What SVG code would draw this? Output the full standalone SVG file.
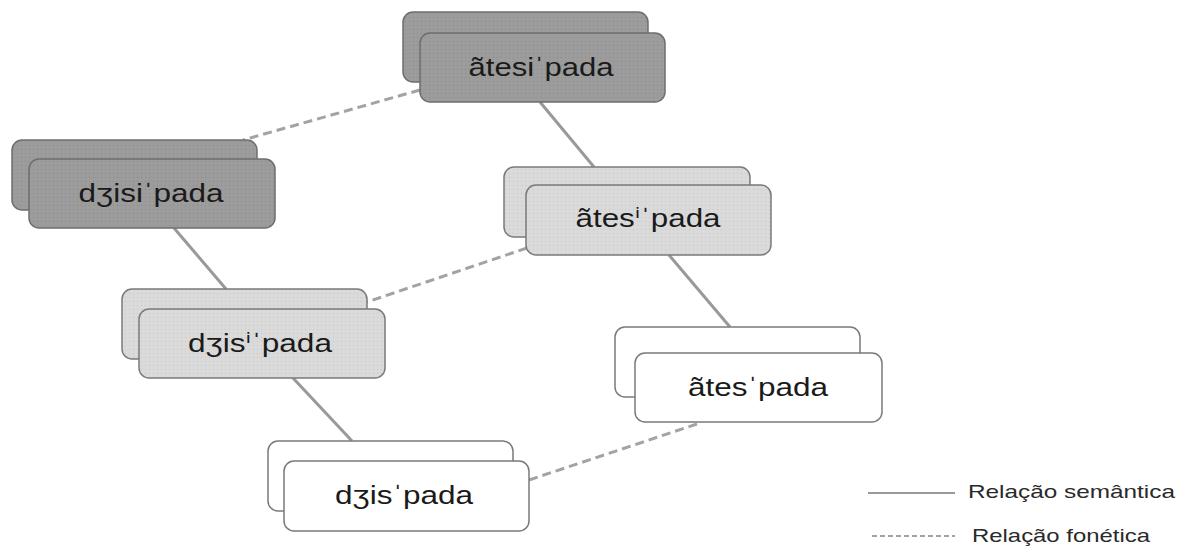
<svg xmlns="http://www.w3.org/2000/svg" width="1189" height="547" viewBox="0 0 1189 547">
  <defs>
    <!-- fine dot textures for the shaded cards -->
    <pattern id="dotsDark" width="4" height="4" patternUnits="userSpaceOnUse">
      <rect width="4" height="4" fill="#9c9c9c"/>
      <rect x="1" y="1" width="1" height="1" fill="#8a8a8a"/>
    </pattern>
    <pattern id="dotsLight" width="4" height="4" patternUnits="userSpaceOnUse">
      <rect width="4" height="4" fill="#dadada"/>
      <rect x="1" y="1" width="1" height="1" fill="#c6c6c6"/>
    </pattern>
    <style>
      .card { stroke-width: 1.5; }
      .dark { fill: url(#dotsDark); stroke: #6e6e6e; }
      .light { fill: url(#dotsLight); stroke: #7a7a7a; }
      .white { fill: #ffffff; stroke: #7a7a7a; }
      .label { font-family: "Liberation Sans", Arial, "DejaVu Sans", sans-serif; font-size: 26px; fill: #1a1a1a; text-anchor: middle; }
      .legend { font-family: "Liberation Sans", Arial, sans-serif; font-size: 19px; fill: #2a2a2a; }
      .sem { stroke: #999999; stroke-width: 3; fill: none; }
      .fon { stroke: #a3a3a3; stroke-width: 3; fill: none; stroke-dasharray: 9 5; }
      .sem-key { stroke: #999999; stroke-width: 2; }
      .fon-key { stroke: #a3a3a3; stroke-width: 2; stroke-dasharray: 5 3; }
    </style>
  </defs>

  <rect width="1189" height="547" fill="#ffffff"/>

  <!-- connectors -->
  <g id="connectors">
    <line class="sem" x1="540" y1="102" x2="594" y2="167"/>
    <line class="sem" x1="174" y1="228" x2="226" y2="289"/>
    <line class="sem" x1="669" y1="255" x2="730" y2="327"/>
    <line class="sem" x1="293" y1="378" x2="352" y2="441"/>
    <line class="fon" x1="420" y1="90" x2="243" y2="140"/>
    <line class="fon" x1="527" y1="248" x2="367" y2="302"/>
    <line class="fon" x1="697" y1="424" x2="529" y2="480"/>
  </g>

  <!-- ãtesiˈpada -->
  <g id="node-atesipada">
    <rect class="card dark" x="403" y="12" width="245" height="70" rx="10"/>
    <rect class="card dark" x="420" y="33" width="245" height="69" rx="10"/>
    <text class="label" x="541" y="76" textLength="145" lengthAdjust="spacingAndGlyphs">ãtesiˈpada</text>
  </g>

  <!-- dʒisiˈpada -->
  <g id="node-dzisipada">
    <rect class="card dark" x="12" y="140" width="245" height="70" rx="10"/>
    <rect class="card dark" x="29" y="159" width="246" height="69" rx="10"/>
    <text class="label" x="151" y="202" textLength="145" lengthAdjust="spacingAndGlyphs">dʒisiˈpada</text>
  </g>

  <!-- ãtesⁱˈpada -->
  <g id="node-atesipada-reduced">
    <rect class="card light" x="504" y="167" width="246" height="70" rx="10"/>
    <rect class="card light" x="526" y="185" width="245" height="70" rx="10"/>
    <text class="label" x="648" y="227" textLength="145" lengthAdjust="spacingAndGlyphs">ãtesⁱˈpada</text>
  </g>

  <!-- dʒisⁱˈpada -->
  <g id="node-dzisipada-reduced">
    <rect class="card light" x="122" y="289" width="245" height="70" rx="10"/>
    <rect class="card light" x="139" y="309" width="246" height="69" rx="10"/>
    <text class="label" x="260" y="352" textLength="144" lengthAdjust="spacingAndGlyphs">dʒisⁱˈpada</text>
  </g>

  <!-- ãtesˈpada -->
  <g id="node-atespada">
    <rect class="card white" x="615" y="327" width="245" height="70" rx="10"/>
    <rect class="card white" x="635" y="353" width="247" height="69" rx="10"/>
    <text class="label" x="758" y="396" textLength="140" lengthAdjust="spacingAndGlyphs">ãtesˈpada</text>
  </g>

  <!-- dʒisˈpada -->
  <g id="node-dzispada">
    <rect class="card white" x="268" y="441" width="245" height="70" rx="10"/>
    <rect class="card white" x="284" y="461" width="245" height="70" rx="10"/>
    <text class="label" x="404" y="504" textLength="138" lengthAdjust="spacingAndGlyphs">dʒisˈpada</text>
  </g>

  <!-- key -->
  <g id="legend">
    <line class="sem-key" x1="868" y1="493" x2="955" y2="493"/>
    <text class="legend" x="968" y="498" textLength="207" lengthAdjust="spacingAndGlyphs">Relação semântica</text>
    <line class="fon-key" x1="872" y1="536" x2="955" y2="536"/>
    <text class="legend" x="972" y="542" textLength="178" lengthAdjust="spacingAndGlyphs">Relação fonética</text>
  </g>
</svg>
